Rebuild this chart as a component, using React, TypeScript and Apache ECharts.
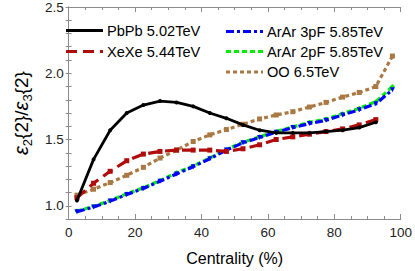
import React, { useEffect, useRef } from "react";
import * as echarts from "echarts";

const centrality = [2.5, 7.5, 12.5, 17.5, 22.5, 27.5, 32.5, 37.5, 42.5, 47.5, 52.5, 57.5, 62.5, 67.5, 72.5, 77.5, 82.5, 87.5, 92.5, 97.5];
const pbpb = [1.04, 1.35, 1.57, 1.70, 1.76, 1.79, 1.78, 1.75, 1.70, 1.66, 1.61, 1.57, 1.55, 1.55, 1.55, 1.56, 1.57, 1.59, 1.63];
const xexe = [1.06, 1.17, 1.26, 1.34, 1.39, 1.41, 1.42, 1.42, 1.42, 1.41, 1.43, 1.46, 1.50, 1.52, 1.54, 1.56, 1.58, 1.61, 1.65];
const arar3pf = [0.955, 0.99, 1.035, 1.085, 1.13, 1.185, 1.24, 1.295, 1.355, 1.42, 1.475, 1.515, 1.555, 1.59, 1.62, 1.645, 1.685, 1.725, 1.77, 1.875];
const arar2pf = [0.96, 0.995, 1.04, 1.09, 1.135, 1.19, 1.25, 1.30, 1.36, 1.425, 1.48, 1.52, 1.56, 1.595, 1.63, 1.655, 1.695, 1.735, 1.785, 1.90];
const oo = [1.08, 1.125, 1.175, 1.23, 1.29, 1.36, 1.42, 1.485, 1.535, 1.575, 1.615, 1.655, 1.685, 1.71, 1.745, 1.78, 1.82, 1.855, 1.90, 2.13];

const seriesNames = ["PbPb 5.02TeV", "XeXe 5.44TeV", "ArAr 3pF 5.85TeV", "ArAr 2pF 5.85TeV", "OO 6.5TeV"];
const xTicks = [0, 20, 40, 60, 80, 100];
const yTickLabels = ["1.0", "1.5", "2.0", "2.5"];

const FONT = "'Liberation Sans', Arial, sans-serif";
const FRAME = "#8c8c8c";

const styles = [
  { color: "#000000", dash: "solid" as any, width: 2.8, symbol: "circle", size: 4 },
  { color: "#b00c0c", dash: [11, 6], width: 3.2, symbol: "rect", size: 5 },
  { color: "#0000ff", dash: [8, 3, 3, 3], width: 3.2, symbol: "triangle", size: 5 },
  { color: "#00ee00", dash: [5, 3], width: 3.2, symbol: "diamond", size: 5 },
  { color: "#aa7842", dash: [4, 3], width: 3.2, symbol: "rect", size: 5 },
];
const seriesData = [pbpb, xexe, arar3pf, arar2pf, oo];

export default function App() {
  const ref = useRef<HTMLDivElement>(null);
  useEffect(() => {
    if (!ref.current) return;
    const chart = echarts.init(ref.current, undefined, { renderer: "svg" });

    const legendPos = [
      { x: 66, y: 30.5 },
      { x: 66, y: 51.5 },
      { x: 226, y: 31.5 },
      { x: 226, y: 51.5 },
      { x: 226, y: 72 },
    ];
    const graphics: any[] = [];
    seriesNames.forEach((name, i) => {
      const s = styles[i];
      const p = legendPos[i];
      graphics.push({
        type: "line",
        shape: { x1: p.x, y1: p.y, x2: p.x + 37, y2: p.y },
        style: { stroke: s.color, lineWidth: s.width, lineDash: s.dash === "solid" ? null : s.dash },
        z: 100,
      });
      graphics.push({
        type: "text",
        x: p.x + 41,
        y: p.y,
        style: { text: name, fill: "#000", font: `14.6px ${FONT}`, textVerticalAlign: "middle", verticalAlign: "middle" },
        z: 100,
      });
    });

    const tickLabelStyle = { color: "#222", fontSize: 13.5, fontFamily: FONT };

    chart.setOption({
      animation: false,
      backgroundColor: "#fff",
      grid: { left: 50, right: 11, top: 7, bottom: 44, containLabel: false },
      graphic: graphics,
      xAxis: [
        {
          type: "value",
          min: 0,
          max: 100,
          interval: 20,
          position: "bottom",
          name: "Centrality (%)",
          nameLocation: "middle",
          nameGap: 31,
          nameTextStyle: { fontSize: 16, color: "#000", fontFamily: FONT },
          axisLine: { show: true, lineStyle: { color: FRAME, width: 1 } },
          axisTick: { show: true, inside: true, length: 5, lineStyle: { color: FRAME } },
          minorTick: { show: true, splitNumber: 4, length: 3, lineStyle: { color: FRAME } },
          axisLabel: {
            ...tickLabelStyle,
            margin: 6,
            formatter: (v: number) => (xTicks.includes(v) ? String(v) : ""),
          },
          splitLine: { show: false },
          minorSplitLine: { show: false },
        },
        {
          type: "value",
          min: 0,
          max: 100,
          interval: 20,
          position: "top",
          axisLine: { show: true, lineStyle: { color: FRAME, width: 1 } },
          axisTick: { show: true, inside: true, length: 5, lineStyle: { color: FRAME } },
          minorTick: { show: true, splitNumber: 4, length: 3, lineStyle: { color: FRAME } },
          axisLabel: { show: false },
          splitLine: { show: false },
        },
      ],
      yAxis: [
        {
          type: "value",
          min: 0.9,
          max: 2.5,
          interval: 0.1,
          position: "left",
          name: "{e|ε}{s|2}{2}/{e|ε}{s|3}{2}",
          nameLocation: "middle",
          nameGap: 31,
          nameRotate: 90,
          nameTextStyle: {
            fontSize: 19,
            color: "#000",
            fontFamily: FONT,
            lineHeight: 26,
            rich: {
              e: { fontSize: 20, fontStyle: "italic", fontFamily: FONT, color: "#000", lineHeight: 26 },
              s: { fontSize: 13, fontFamily: FONT, color: "#000", verticalAlign: "bottom", lineHeight: 26, padding: [7, 0, 0, 0] },
            },
          },
          axisLine: { show: true, lineStyle: { color: FRAME, width: 1 } },
          axisTick: { show: true, inside: true, length: 3, lineStyle: { color: FRAME } },
          axisLabel: {
            ...tickLabelStyle,
            margin: 5,
            formatter: (v: number) => {
              const s = v.toFixed(1);
              return yTickLabels.includes(s) ? s : "";
            },
          },
          splitLine: { show: false },
        },
        {
          type: "value",
          min: 0.9,
          max: 2.5,
          interval: 0.1,
          position: "right",
          axisLine: { show: true, lineStyle: { color: FRAME, width: 1 } },
          axisTick: { show: true, inside: true, length: 3, lineStyle: { color: FRAME } },
          axisLabel: { show: false },
          splitLine: { show: false },
        },
      ],
      series: seriesNames.map((name, i) => {
        const s = styles[i];
        return {
          name,
          type: "line",
          xAxisIndex: 0,
          yAxisIndex: 0,
          data: seriesData[i].map((v, j) => [centrality[j], v]),
          symbol: s.symbol,
          symbolSize: s.size,
          symbolRotate: s.symbol === "triangle" ? 180 : 0,
          showSymbol: true,
          itemStyle: { color: s.color },
          lineStyle: { color: s.color, width: s.width, type: s.dash },
          z: 10 - i,
        };
      }),
    });
    return () => chart.dispose();
  }, []);
  return <div ref={ref} style={{ width: 415, height: 271, position: "absolute", left: 0, top: 0 }} />;
}
